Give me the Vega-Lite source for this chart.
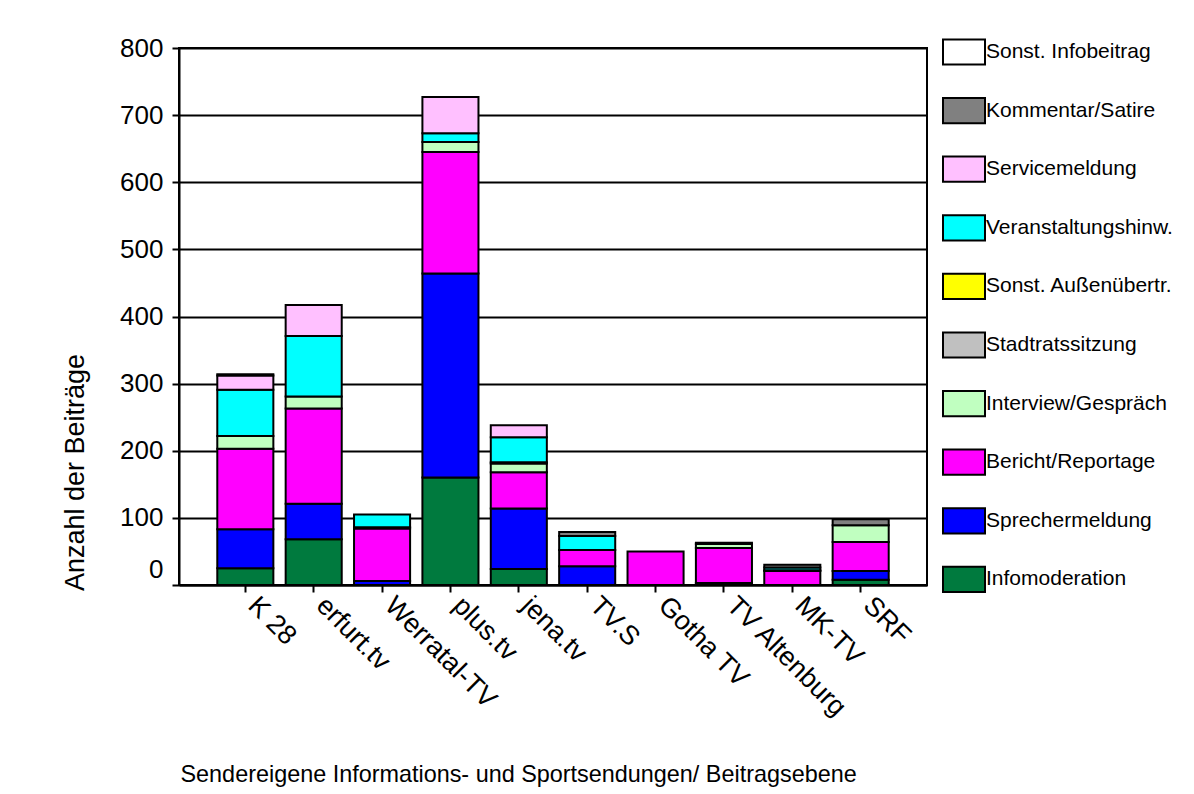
{
  "$schema": "https://vega.github.io/schema/vega-lite/v6.json",
  "width": 748,
  "height": 537,
  "autosize": {"type": "none"},
  "padding": {"left": 179, "top": 48, "right": 267, "bottom": 209},
  "background": "white",
  "config": {
    "font": "Liberation Sans",
    "view": {"stroke": "black", "strokeWidth": 2}
  },
  "data": {
    "values": [
      {"station": "K 28", "type": "Infomoderation", "value": 25},
      {"station": "K 28", "type": "Sprechermeldung", "value": 58},
      {"station": "K 28", "type": "Bericht/Reportage", "value": 120},
      {"station": "K 28", "type": "Interview/Gespräch", "value": 19},
      {"station": "K 28", "type": "Veranstaltungshinw.", "value": 69},
      {"station": "K 28", "type": "Servicemeldung", "value": 21},
      {"station": "K 28", "type": "Kommentar/Satire", "value": 2},
      {"station": "erfurt.tv", "type": "Infomoderation", "value": 68},
      {"station": "erfurt.tv", "type": "Sprechermeldung", "value": 53},
      {"station": "erfurt.tv", "type": "Bericht/Reportage", "value": 142},
      {"station": "erfurt.tv", "type": "Interview/Gespräch", "value": 18},
      {"station": "erfurt.tv", "type": "Veranstaltungshinw.", "value": 90},
      {"station": "erfurt.tv", "type": "Servicemeldung", "value": 46},
      {"station": "Werratal-TV", "type": "Sprechermeldung", "value": 6},
      {"station": "Werratal-TV", "type": "Bericht/Reportage", "value": 78},
      {"station": "Werratal-TV", "type": "Interview/Gespräch", "value": 2},
      {"station": "Werratal-TV", "type": "Veranstaltungshinw.", "value": 19},
      {"station": "plus.tv", "type": "Infomoderation", "value": 160},
      {"station": "plus.tv", "type": "Sprechermeldung", "value": 304},
      {"station": "plus.tv", "type": "Bericht/Reportage", "value": 181},
      {"station": "plus.tv", "type": "Interview/Gespräch", "value": 15},
      {"station": "plus.tv", "type": "Veranstaltungshinw.", "value": 13},
      {"station": "plus.tv", "type": "Servicemeldung", "value": 54},
      {"station": "jena.tv", "type": "Infomoderation", "value": 24},
      {"station": "jena.tv", "type": "Sprechermeldung", "value": 90},
      {"station": "jena.tv", "type": "Bericht/Reportage", "value": 54},
      {"station": "jena.tv", "type": "Interview/Gespräch", "value": 13},
      {"station": "jena.tv", "type": "Stadtratssitzung", "value": 2},
      {"station": "jena.tv", "type": "Veranstaltungshinw.", "value": 37},
      {"station": "jena.tv", "type": "Servicemeldung", "value": 18},
      {"station": "TV.S", "type": "Sprechermeldung", "value": 28},
      {"station": "TV.S", "type": "Bericht/Reportage", "value": 24},
      {"station": "TV.S", "type": "Veranstaltungshinw.", "value": 21},
      {"station": "TV.S", "type": "Kommentar/Satire", "value": 6},
      {"station": "Gotha TV", "type": "Bericht/Reportage", "value": 50},
      {"station": "TV Altenburg", "type": "Infomoderation", "value": 3},
      {"station": "TV Altenburg", "type": "Bericht/Reportage", "value": 52},
      {"station": "TV Altenburg", "type": "Interview/Gespräch", "value": 6},
      {"station": "TV Altenburg", "type": "Kommentar/Satire", "value": 2},
      {"station": "MK-TV", "type": "Bericht/Reportage", "value": 21},
      {"station": "MK-TV", "type": "Interview/Gespräch", "value": 1},
      {"station": "MK-TV", "type": "Veranstaltungshinw.", "value": 4},
      {"station": "MK-TV", "type": "Kommentar/Satire", "value": 4},
      {"station": "SRF", "type": "Infomoderation", "value": 8},
      {"station": "SRF", "type": "Sprechermeldung", "value": 13},
      {"station": "SRF", "type": "Bericht/Reportage", "value": 43},
      {"station": "SRF", "type": "Interview/Gespräch", "value": 25},
      {"station": "SRF", "type": "Kommentar/Satire", "value": 9}
    ]
  },
  "transform": [
    {"calculate": "indexof(['Sonst. Infobeitrag','Kommentar/Satire','Servicemeldung','Veranstaltungshinw.','Sonst. Außenübertr.','Stadtratssitzung','Interview/Gespräch','Bericht/Reportage','Sprechermeldung','Infomoderation'], datum.type)", "as": "o"}
  ],
  "mark": {"type": "bar", "stroke": "black", "strokeWidth": 2},
  "encoding": {
    "x": {
      "field": "station",
      "type": "nominal",
      "sort": ["K 28", "erfurt.tv", "Werratal-TV", "plus.tv", "jena.tv", "TV.S", "Gotha TV", "TV Altenburg", "MK-TV", "SRF"],
      "scale": {"paddingInner": 0.18, "paddingOuter": 0.56},
      "axis": {
        "title": "Sendereigene Informations- und Sportsendungen/ Beitragsebene",
        "titleFont": "Liberation Sans",
        "titleFontSize": 23.4,
        "titleFontWeight": "normal",
        "titleColor": "black",
        "titleAnchor": "start",
        "titleAlign": "left",
        "titleX": 1,
        "titleY": 196,
        "titleBaseline": "alphabetic",
        "labelAngle": 45,
        "labelAlign": "left",
        "labelBaseline": "middle",
        "labelFontSize": 27,
        "labelColor": "black",
        "labelPadding": 9,
        "labelOffset": 7,
        "labelLimit": 300,
        "tickColor": "black",
        "tickSize": 7,
        "tickWidth": 2,
        "domainColor": "black",
        "domainWidth": 2,
        "grid": false
      }
    },
    "y": {
      "aggregate": "sum",
      "field": "value",
      "type": "quantitative",
      "stack": "zero",
      "scale": {"domain": [0, 800], "nice": false},
      "axis": {
        "title": "Anzahl der Beiträge",
        "titleFont": "Liberation Sans",
        "titleFontSize": 27,
        "titleFontWeight": "normal",
        "titleColor": "black",
        "titleX": -104,
        "titleY": 424,
        "titleAngle": -90,
        "titleAlign": "center",
        "titleBaseline": "middle",
        "values": [0, 100, 200, 300, 400, 500, 600, 700, 800],
        "labelFontSize": 26,
        "labelColor": "black",
        "labelPadding": 9,
        "labelOffset": {"condition": {"test": "datum.value === 0", "value": -16}, "value": 0},
        "tickColor": "black",
        "tickSize": 7,
        "tickWidth": 2,
        "domainColor": "black",
        "domainWidth": 2,
        "grid": true,
        "gridColor": "black",
        "gridWidth": 2,
        "gridOpacity": 1
      }
    },
    "color": {
      "field": "type",
      "type": "nominal",
      "scale": {
        "domain": ["Sonst. Infobeitrag", "Kommentar/Satire", "Servicemeldung", "Veranstaltungshinw.", "Sonst. Außenübertr.", "Stadtratssitzung", "Interview/Gespräch", "Bericht/Reportage", "Sprechermeldung", "Infomoderation"],
        "range": ["#FFFFFF", "#808080", "#FFC0FF", "#00FFFF", "#FFFF00", "#C0C0C0", "#C0FFC0", "#FF00FF", "#0000FF", "#007A3E"]
      },
      "legend": {
        "title": null,
        "orient": "none",
        "legendX": 763,
        "legendY": -18,
        "padding": 0,
        "symbolType": "M-1,-0.6H1V0.6H-1Z",
        "symbolSize": 1764,
        "symbolStrokeColor": "black",
        "symbolStrokeWidth": 2,
        "symbolOpacity": 1,
        "labelFontSize": 21,
        "labelColor": "black",
        "labelOffset": 0,
        "rowPadding": 19.6,
        "labelLimit": 300
      }
    },
    "order": {"field": "o", "type": "quantitative", "sort": "descending"}
  }
}
